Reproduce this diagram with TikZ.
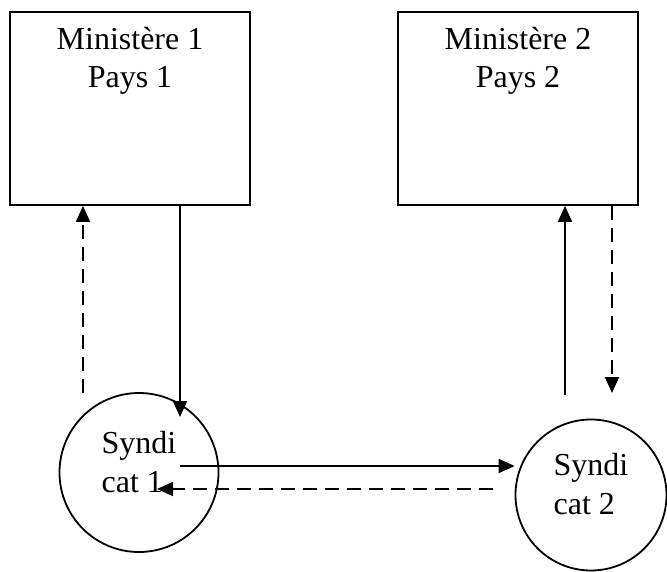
\documentclass[tikz,border=0pt]{standalone}
\usepackage{fontspec}
\setmainfont{Liberation Serif}
\usetikzlibrary{positioning,arrows.meta}
\tikzset{
	box/.style={draw, line width=1.8pt, minimum width=240pt, minimum height=193pt, inner sep=0pt},
	lbl/.style={align=center, inner sep=0pt, font=\fontsize{32}{38}\selectfont},
	synd/.style={draw, circle, line width=1.8pt, inner sep=0pt, align=left, text depth=22pt, font=\fontsize{32}{39}\selectfont},
	tip/.style={-{Triangle[length=16pt,width=14pt]}, line width=1.8pt},
	dsh/.style={tip, dash pattern=on 14pt off 8pt},
}

\begin{document}
\begin{tikzpicture}[x=1pt, y=-1pt]
	\useasboundingbox (0,0) rectangle (667,572);
	\clip (0,0) rectangle (667,572);
	\node [box] (M1) at (130,108.5) {};
	\node [box] (M2) at (518,108.5) {};
	\node [lbl, below=16pt of M1.north] (T1) {Ministère 1\\Pays 1};
	\node [lbl, below=16pt of M2.north] (T2) {Ministère 2\\Pays 2};
	\node [synd, minimum size=159pt] (S1) at (139,472.5) {Syndi\\cat 1};
	\node [synd, minimum size=151pt] (S2) at (591,495) {Syndi\\cat 2};
	\coordinate (a) at (83,393);
	\coordinate (b) at (180,417);
	\coordinate (c) at (180,466);
	\coordinate (d) at (493,489);
	\coordinate (e) at (157,489);
	\coordinate (f) at (565,395);
	\coordinate (g) at (612,393);
	\draw [dsh] (a) to (a |- M1.south);
	\draw [tip] (b |- M1.south) to (b);
	\draw [tip] (c) to (S2.west |- c);
	\draw [dsh] (d) to (e);
	\draw [tip] (f) to (f |- M2.south);
	\draw [dsh] (g |- M2.south) to (g);
\end{tikzpicture}
\end{document}
